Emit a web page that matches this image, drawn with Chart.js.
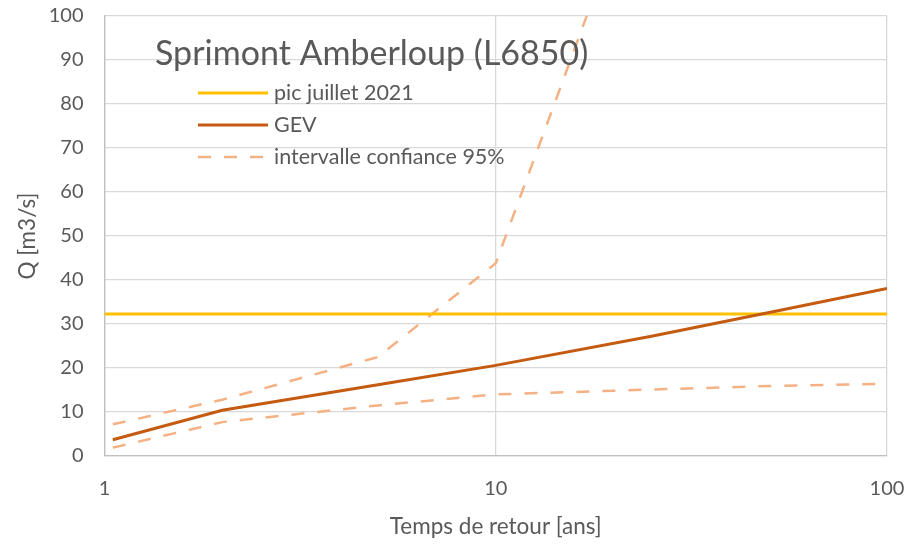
<!DOCTYPE html>
<html>
<head>
<meta charset="utf-8">
<script src="https://cdn.jsdelivr.net/npm/chart.js@4/dist/chart.umd.min.js"></script>
<style>
html,body{margin:0;padding:0;background:#fff;}
#wrap{width:912px;height:546px;}
</style>
</head>
<body>
<div id="wrap"><canvas id="c" width="912" height="546"></canvas></div>
<script>
// ---- data ----
const chartTitle = "Sprimont Amberloup (L6850)";
const returnPeriods = [1.05, 2, 5, 10, 25, 50, 100];
const gev = [3.7, 10.4, 16.2, 20.6, 27.2, 32.6, 38.1];
const ciLower = [1.9, 7.7, 11.5, 14.0, 15.1, 15.9, 16.4];
const ciUpper = [7.2, 12.8, 22.5, 43.8, 140, null, null];
const picX = [1, 100];
const picValue = [32.3, 32.3];
const seriesNames = ["pic juillet 2021", "GEV", "intervalle confiance 95%"];
const xTicks = [1, 10, 100];
const yTicks = [0, 10, 20, 30, 40, 50, 60, 70, 80, 90, 100];

const FONT = "Lato, 'Open Sans', sans-serif";
const TXT = "#595959";
const C_PIC = "#FFC000", C_GEV = "#C55A11", C_CI = "#F4B183";

function pts(xs, ys){ return xs.map((x,i)=>({x:x, y:ys[i]})); }

const overlay = {
  id: "overlay",
  afterDraw(chart){
    const ctx = chart.ctx;
    ctx.save();
    ctx.fillStyle = TXT;
    ctx.textBaseline = "alphabetic";
    ctx.textAlign = "left";
    ctx.font = "34px " + FONT;
    ctx.fillText(chartTitle, 155, 65);
    const styles = [
      {c:C_PIC, w:3, d:[]},
      {c:C_GEV, w:3, d:[]},
      {c:C_CI, w:2.5, d:[13,13]}
    ];
    const rows = [93, 125, 157];
    ctx.font = "21.5px " + FONT;
    seriesNames.forEach((n,i)=>{
      const s = styles[i];
      ctx.beginPath();
      ctx.strokeStyle = s.c; ctx.lineWidth = s.w; ctx.setLineDash(s.d);
      ctx.moveTo(198, rows[i]); ctx.lineTo(268, rows[i]); ctx.stroke();
      ctx.setLineDash([]);
      ctx.textBaseline = "middle";
      ctx.fillText(n, 274, rows[i]);
    });
    ctx.restore();
  }
};

function noPad(s){ s.paddingTop = 0; s.paddingBottom = 0; s.paddingLeft = 0; s.paddingRight = 0; }

new Chart(document.getElementById("c"), {
  type: "line",
  data: {
    datasets: [
      {label: seriesNames[0], data: pts(picX, picValue), borderColor: C_PIC, borderWidth: 3, pointRadius: 0, order: 1},
      {label: seriesNames[1], data: pts(returnPeriods, gev), borderColor: C_GEV, borderWidth: 3, pointRadius: 0, order: 0},
      {label: seriesNames[2], data: pts(returnPeriods, ciUpper), borderColor: C_CI, borderWidth: 2.5, borderDash: [13,13], pointRadius: 0, order: 2},
      {label: seriesNames[2] + " (inf)", data: pts(returnPeriods, ciLower), borderColor: C_CI, borderWidth: 2.5, borderDash: [13,13], pointRadius: 0, order: 2}
    ]
  },
  options: {
    responsive: false,
    animation: false,
    devicePixelRatio: 1,
    layout: {padding: {top: 16, right: 25, left: 0, bottom: 0}},
    plugins: {legend: {display: false}, tooltip: {enabled: false}},
    scales: {
      x: {
        type: "logarithmic", min: 1, max: 100,
        afterBuildTicks: s => { s.ticks = xTicks.map(v => ({value: v})); },
        afterFit: s => { s.height = 90; noPad(s); },
        ticks: {callback: v => String(v), color: TXT, font: {family: FONT, size: 20}, padding: 21, maxRotation: 0},
        grid: {color: "#d9d9d9", drawTicks: false, lineWidth: 1.3},
        border: {color: "#bfbfbf", width: 1.3},
        title: {display: true, text: "Temps de retour [ans]", color: TXT, font: {family: FONT, size: 22.5}, padding: {top: 4, bottom: 6}}
      },
      y: {
        min: 0, max: 100,
        afterBuildTicks: s => { s.ticks = yTicks.map(v => ({value: v})); },
        afterFit: s => { s.width = 104.5; noPad(s); },
        ticks: {color: TXT, font: {family: FONT, size: 20}, padding: 21},
        grid: {color: "#d9d9d9", drawTicks: false, lineWidth: 1.3},
        border: {color: "#bfbfbf", width: 1.3},
        title: {display: true, text: "Q [m3/s]", color: TXT, font: {family: FONT, size: 22.5}, padding: {top: 14, bottom: 4}}
      }
    }
  },
  plugins: [overlay]
});
</script>
</body>
</html>
